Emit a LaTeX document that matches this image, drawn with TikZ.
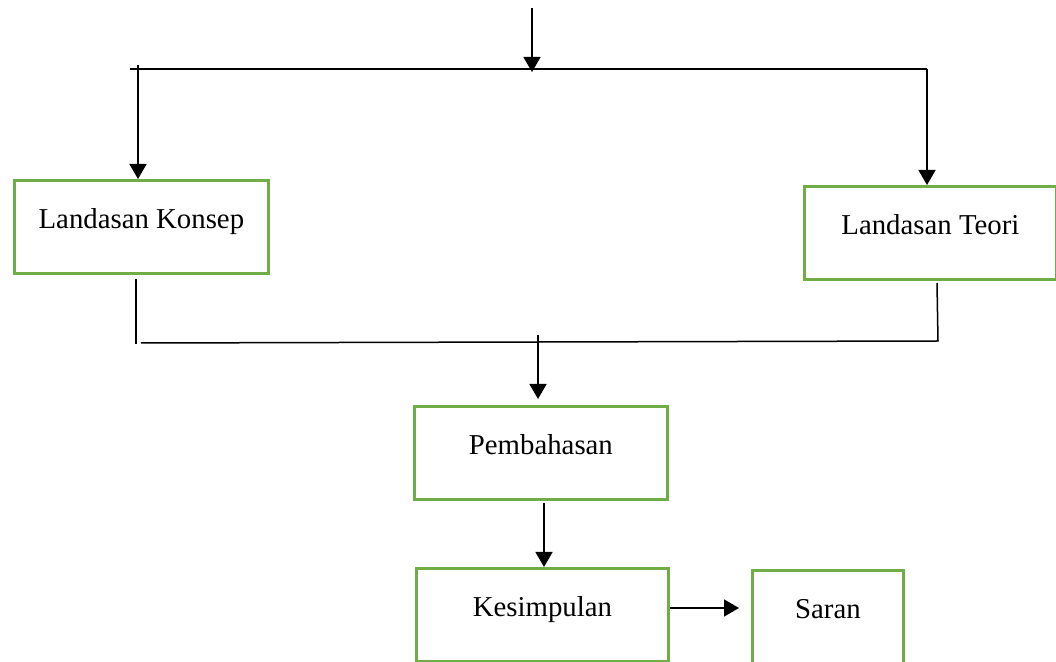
\documentclass[tikz,border=0pt]{standalone}
\usepackage{fontspec}
\setmainfont{Liberation Serif}
\usetikzlibrary{arrows.meta}
\definecolor{boxgreen}{HTML}{70AD47}
\begin{document}
\begin{tikzpicture}[x=0.5pt,y=-0.5pt,
  flowbox/.style={draw=boxgreen, line width=1.4pt, anchor=north west,
    inner xsep=0pt, inner ysep=0pt, text height=24pt, text depth=22.5pt,
    font=\fontsize{14.4}{17}\selectfont},
  conn/.style={draw=black, line width=0.75pt},
  arr/.style={conn, -{Triangle[width=8.5pt,length=7.5pt]}}]
\useasboundingbox (0,0) rectangle (1056,662);

\node[flowbox, minimum width=127pt] (konsep) at (13,179) {Landasan Konsep};
\node[flowbox, minimum width=126pt] (teori) at (803,185) {Landasan Teori};
\node[flowbox, minimum width=126.5pt] (pemb) at (413,405) {Pembahasan};
\node[flowbox, minimum width=126pt] (kesim) at (415,567) {Kesimpulan};
\node[flowbox, minimum width=75.5pt] (saran) at (751,569) {Saran};

% top distribution
\coordinate (in) at (532,8);
\coordinate (jtop) at (532,72);
\coordinate (hl) at (130,69);
\coordinate (hr) at (927,69);
\coordinate (lt) at (138,65);
\draw[arr] (in) -- (jtop);
\draw[conn] (hl) -- (hr);
\draw[arr] (lt) -- (lt |- konsep.north);
\draw[arr] (hr) -- (hr |- teori.north);

% bottom collection
\coordinate (kb1) at (136,279);
\coordinate (kb2) at (136,344);
\coordinate (hb1) at (141,343);
\coordinate (hb2) at (938,341);
\coordinate (tb) at (937,283);
\draw[conn] (kb1) -- (kb2);
\draw[conn] (hb1) -- (hb2) -- (tb);

\coordinate (m1) at (538,335);
\draw[arr, shorten >=3pt] (m1) -- (m1 |- pemb.north);

\coordinate (m2) at (544,503);
\draw[arr] (m2) -- (m2 |- kesim.north);

\draw[arr, shorten >=6pt] (kesim.east |- 0,608) -- (saran.west |- 0,608);
\end{tikzpicture}
\end{document}
